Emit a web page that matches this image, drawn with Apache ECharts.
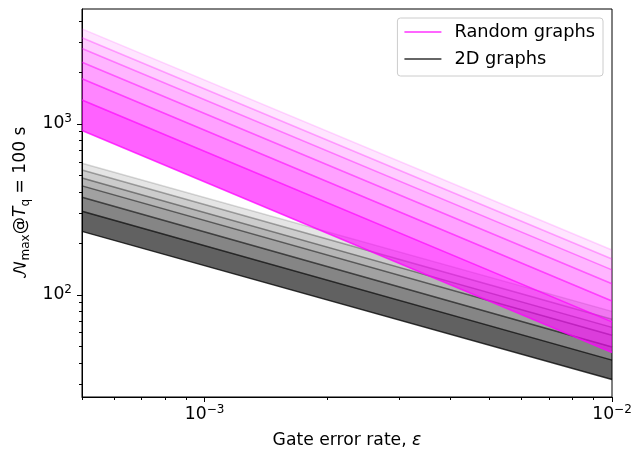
<!DOCTYPE html>
<html><head><meta charset="utf-8">
<script src="https://cdn.jsdelivr.net/npm/echarts@6/dist/echarts.min.js"></script>
<style>html,body{margin:0;padding:0;background:#fff}#c{width:642px;height:454px}</style>
</head><body><div id="c"></div>
<script>
// ---- data ----
const errorRates = [5e-4, 1e-2];               // x at left / right edge
// curve values at eps=5e-4 (left) and eps=1e-2 (right), bottom -> top
const randomLeft  = [915, 1379, 1838, 2293, 2759, 3192, 3595];
const randomRight = [46, 69.5, 92, 116, 140, 162, 183];
const gridLeft    = [235, 308, 372, 434, 483, 537, 589];
const gridRight   = [32, 41.5, 49.5, 58, 64.5, 72, 80];
const xMajorTicks = [1e-3, 1e-2];
const xMinorTicks = [5e-4, 6e-4, 7e-4, 8e-4, 9e-4, 2e-3, 3e-3, 4e-3, 5e-3, 6e-3, 7e-3, 8e-3, 9e-3];
const yMajorTicks = [100, 1000];
const yMinorTicks = [30, 40, 50, 60, 70, 80, 90, 200, 300, 400, 500, 600, 700, 800, 900, 2000, 3000, 4000];
const seriesNames = ['Random graphs', '2D graphs'];

// ---- styling ----
const FONT = 'DejaVu Sans';
const FS = 17.2;
const LFS = 17.8;
const bandAlpha = [0.62, 0.48, 0.37, 0.29, 0.2, 0.1];
const lineAlpha = [0.75, 0.7, 0.6, 0.5, 0.4, 0.3, 0.15];
function rgba(rgb, a) { return 'rgba(' + rgb.join(',') + ',' + a + ')'; }
function pow10Label(v) {
  const e = Math.round(Math.log10(v));
  return '{b|10}{s|' + String(e).replace('-', '\u2212') + '}';
}
const tickRich = {
  b: {fontFamily: FONT, fontSize: FS, color: '#000', lineHeight: 22},
  s: {fontFamily: FONT, fontSize: 12, color: '#000', lineHeight: 12, verticalAlign: 'top'}
};

function bandSeries(name, lefts, rights, rgb, z) {
  const data = [];
  for (let k = 0; k < lefts.length - 1; k++) {
    data.push([errorRates[0], lefts[k], lefts[k + 1], errorRates[1], rights[k], rights[k + 1], k]);
  }
  return {
    type: 'custom', name: name + ' band', z: z, silent: true,
    xAxisIndex: 0, yAxisIndex: 0,
    encode: {x: [0, 3], y: [1, 2, 4, 5]},
    renderItem: function (params, api) {
      const p1 = api.coord([api.value(0), api.value(1)]);
      const p2 = api.coord([api.value(3), api.value(4)]);
      const p3 = api.coord([api.value(3), api.value(5)]);
      const p4 = api.coord([api.value(0), api.value(2)]);
      const k = api.value(6);
      return {type: 'polygon', shape: {points: [p1, p2, p3, p4]}, style: {fill: rgba(rgb, bandAlpha[k])}};
    },
    data: data
  };
}
function lineSeries(name, lefts, rights, rgb, z) {
  return lefts.map((v, k) => ({
    type: 'line', name: name, z: z, silent: true, symbol: 'none',
    xAxisIndex: 0, yAxisIndex: 0,
    itemStyle: {color: rgba(rgb, 0.6)},
    lineStyle: {color: rgba(rgb, lineAlpha[k]), width: 1.5},
    data: [[errorRates[0], v], [errorRates[1], rights[k]]]
  }));
}

const MAG = [255, 0, 255], BLK = [0, 0, 0];
const series = [].concat(
  [bandSeries(seriesNames[1], gridLeft, gridRight, BLK, 1)],
  lineSeries(seriesNames[1], gridLeft, gridRight, BLK, 2),
  [bandSeries(seriesNames[0], randomLeft, randomRight, MAG, 3)],
  lineSeries(seriesNames[0], randomLeft, randomRight, MAG, 4)
);

const tickLine = {color: '#000', width: 1};

const option = {
  animation: false,
  backgroundColor: '#fff',
  grid: {left: 82, top: 9, width: 530, height: 395, show: true, borderColor: '#000', borderWidth: 1, containLabel: false},
  legend: {
    data: [
      {name: seriesNames[0], itemStyle: {color: 'rgba(255,0,255,0.6)'}},
      {name: seriesNames[1], itemStyle: {color: 'rgba(0,0,0,0.6)'}}
    ],
    orient: 'vertical', right: 39, top: 18, icon: 'rect', itemWidth: 37, itemHeight: 2, itemGap: 7,
    padding: [4, 8, 7, 7], borderColor: '#cccccc', borderWidth: 1, borderRadius: 3,
    backgroundColor: 'rgba(255,255,255,0.8)', selectedMode: false,
    textStyle: {fontFamily: FONT, fontSize: LFS, color: '#000', lineHeight: 20, padding: [0, 0, 0, 8]}
  },
  xAxis: [
    {
      type: 'log', logBase: 10, min: errorRates[0], max: errorRates[1], gridIndex: 0, position: 'bottom',
      axisLine: {show: true, lineStyle: tickLine},
      axisTick: {show: true, customValues: xMajorTicks, length: 5, lineStyle: tickLine},
      axisLabel: {customValues: xMajorTicks, formatter: pow10Label, margin: 7, rich: tickRich},
      splitLine: {show: false}, minorTick: {show: false},
      name: '{r|Gate error rate, }{i|\u03B5}', nameLocation: 'middle', nameGap: 35,
      nameTextStyle: {fontFamily: FONT, fontSize: FS, color: '#000',
        rich: {r: {fontFamily: FONT, fontSize: FS, color: '#000'}, i: {fontFamily: FONT, fontSize: FS, fontStyle: 'italic', color: '#000'}}}
    },
    {
      type: 'log', logBase: 10, min: errorRates[0], max: errorRates[1], gridIndex: 0, position: 'bottom',
      axisLine: {show: false},
      axisTick: {show: true, customValues: xMinorTicks, length: 3, lineStyle: tickLine},
      axisLabel: {show: false}, splitLine: {show: false}
    }
  ],
  yAxis: [
    {
      type: 'log', logBase: 10, min: 25.25, max: 4700, gridIndex: 0, position: 'left',
      axisLine: {show: true, lineStyle: tickLine},
      axisTick: {show: true, customValues: yMajorTicks, length: 5, lineStyle: tickLine},
      axisLabel: {customValues: yMajorTicks, formatter: pow10Label, margin: 10, rich: tickRich},
      splitLine: {show: false}, minorTick: {show: false},
      name: '{n|\uD835\uDCA9}{s|max}{r|@}{i|T}{s|q}{r| = 100 s}', nameLocation: 'middle', nameGap: 40, nameRotate: 90,
      nameTextStyle: {fontFamily: FONT, fontSize: FS, color: '#000',
        rich: {
          n: {fontFamily: 'DejaVu Math TeX Gyre', fontSize: FS, color: '#000', lineHeight: 22},
          r: {fontFamily: FONT, fontSize: FS, color: '#000', lineHeight: 22},
          i: {fontFamily: FONT, fontSize: FS, fontStyle: 'italic', color: '#000', lineHeight: 22},
          s: {fontFamily: FONT, fontSize: 12, color: '#000', lineHeight: 10, verticalAlign: 'bottom'}
        }}
    },
    {
      type: 'log', logBase: 10, min: 25.25, max: 4700, gridIndex: 0, position: 'left',
      axisLine: {show: false},
      axisTick: {show: true, customValues: yMinorTicks, length: 3, lineStyle: tickLine},
      axisLabel: {show: false}, splitLine: {show: false}
    }
  ],
  series: series
};
const chart = echarts.init(document.getElementById('c'), null, {renderer: 'canvas'});
chart.setOption(option);
</script></body></html>
